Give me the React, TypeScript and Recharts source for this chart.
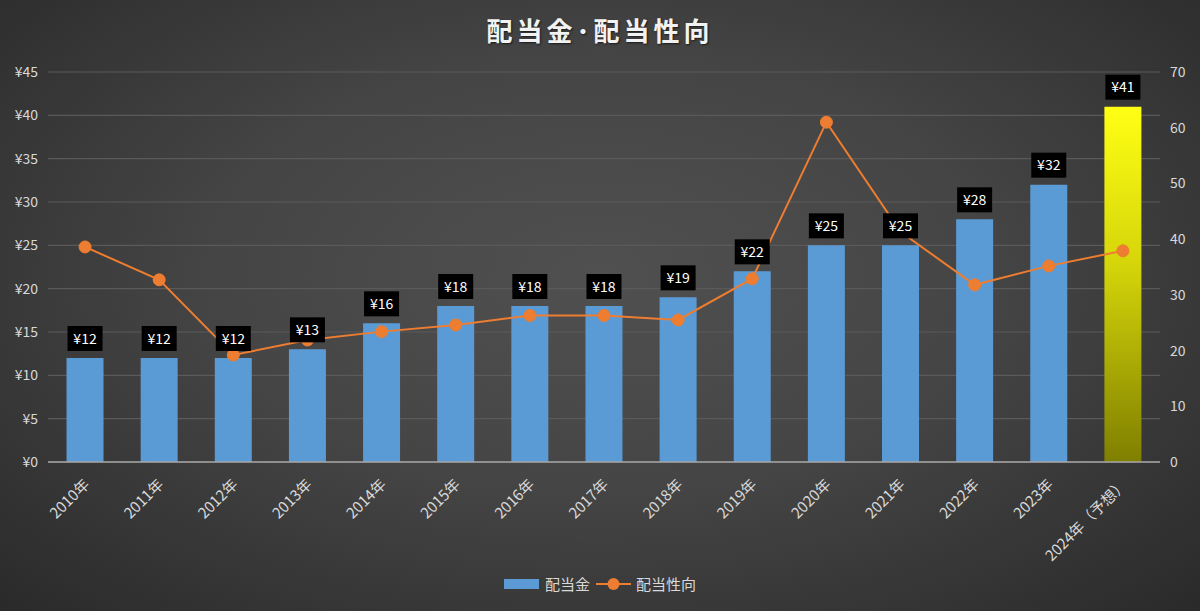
import {
  ComposedChart,
  Bar,
  Line,
  XAxis,
  YAxis,
  CartesianGrid,
  LabelList,
  Cell,
} from 'recharts';

const years = [
  '2010年', '2011年', '2012年', '2013年', '2014年', '2015年', '2016年', '2017年',
  '2018年', '2019年', '2020年', '2021年', '2022年', '2023年', '2024年（予想）',
];
const dividends = [12, 12, 12, 13, 16, 18, 18, 18, 19, 22, 25, 25, 28, 32, 41];
const payoutRatios = [
  38.6, 32.7, 19.2, 21.9, 23.4, 24.6, 26.3, 26.3, 25.5, 32.9, 61.0, 41.3, 31.8, 35.2, 37.9,
];
const leftTicks = [0, 5, 10, 15, 20, 25, 30, 35, 40, 45];
const rightTicks = [0, 10, 20, 30, 40, 50, 60, 70];

const data = years.map((year, i) => ({
  year,
  dividend: dividends[i],
  payout: payoutRatios[i],
}));

const FONT = '"Noto Sans CJK JP", "Noto Sans", sans-serif';
const TEXT = '#d9d9d9';

// black box with the yen amount, sitting above each bar
const ValueBox = (props: any) => {
  const { x, y, width, value } = props;
  const cx = x + width / 2;
  const w = 35;
  const h = 25;
  return (
    <g>
      <rect x={cx - w / 2} y={y - 7 - h} width={w} height={h} fill="#000" />
      <text
        x={cx}
        y={y - 7 - h / 2}
        dy="0.36em"
        textAnchor="middle"
        fill="#fff"
        fontSize={14}
        fontFamily={FONT}
      >
        ¥{value}
      </text>
    </g>
  );
};

const YearTick = (props: any) => {
  const { x, y, payload } = props;
  return (
    <g transform={`translate(${x - 2},${y + 8})`}>
      <text
        x={0}
        y={0}
        dy="0.7em"
        textAnchor="end"
        transform="rotate(-45)"
        fill={TEXT}
        fontSize={15}
        fontFamily={FONT}
      >
        {payload.value}
      </text>
    </g>
  );
};

export default function App() {
  return (
    <div
      style={{
        position: 'absolute',
        left: 0,
        top: 0,
        width: 1200,
        height: 611,
        background: 'radial-gradient(ellipse at 50% 45%, #505050 0%, #454545 45%, #2a2a2a 100%)',
        fontFamily: FONT,
        overflow: 'hidden',
      }}
    >
      <div
        style={{
          position: 'absolute',
          top: 11,
          left: 0,
          width: 1200,
          textAlign: 'center',
          color: '#f2f2f2',
          fontSize: 26,
          fontWeight: 700,
          letterSpacing: 4,
          textShadow: '1px 1px 2px rgba(0,0,0,0.6)',
        }}
      >
        配当金･配当性向
      </div>

      <ComposedChart
        width={1200}
        height={611}
        data={data}
        margin={{ top: 72, right: 0, bottom: 0, left: 0 }}
        barCategoryGap="25%"
      >
        <defs>
          <linearGradient id="forecast" x1="0" y1="0" x2="0" y2="1">
            <stop offset="0%" stopColor="#ffff14" />
            <stop offset="45%" stopColor="#d4d40a" />
            <stop offset="100%" stopColor="#7f7f00" />
          </linearGradient>
        </defs>
        <CartesianGrid yAxisId="left" vertical={false} stroke="#5a5a5a" strokeWidth={1.2} />
        <XAxis
          dataKey="year"
          height={149}
          interval={0}
          tickLine={false}
          axisLine={{ stroke: '#a6a6a6', strokeWidth: 1.5 }}
          tick={<YearTick />}
        />
        <YAxis
          yAxisId="left"
          orientation="left"
          width={48}
          domain={[0, 45]}
          ticks={leftTicks}
          tickFormatter={(v) => `¥${v}`}
          tickLine={false}
          axisLine={false}
          tickMargin={4}
          tick={{ fill: TEXT, fontSize: 14, fontFamily: FONT }}
        />
        <YAxis
          yAxisId="right"
          orientation="right"
          width={40}
          domain={[0, 70]}
          ticks={rightTicks}
          tickLine={false}
          axisLine={false}
          tickMargin={4}
          tick={{ fill: TEXT, fontSize: 14, fontFamily: FONT, textAnchor: 'start' }}
        />
        <Bar
          yAxisId="left"
          dataKey="dividend"
          name="配当金"
          fill="#5b9bd5"
          isAnimationActive={false}
        >
          {data.map((d, i) => (
            <Cell key={d.year} fill={i === data.length - 1 ? 'url(#forecast)' : '#5b9bd5'} />
          ))}
          <LabelList dataKey="dividend" content={<ValueBox />} />
        </Bar>
        <Line
          yAxisId="right"
          dataKey="payout"
          name="配当性向"
          stroke="#ed7d31"
          strokeWidth={2}
          dot={{ r: 6, fill: '#ed7d31', stroke: '#ed7d31', strokeWidth: 1 }}
          activeDot={false}
          isAnimationActive={false}
        />
      </ComposedChart>

      {/* legend */}
      <div
        style={{
          position: 'absolute',
          top: 573,
          left: 0,
          width: 1200,
          display: 'flex',
          justifyContent: 'center',
          alignItems: 'center',
          color: TEXT,
          fontSize: 15,
        }}
      >
        <span style={{ display: 'inline-block', width: 35, height: 10, background: '#5b9bd5', marginRight: 6 }} />
        <span style={{ marginRight: 6 }}>配当金</span>
        <svg width={35} height={14} style={{ marginRight: 5 }}>
          <line x1={0} y1={7} x2={35} y2={7} stroke="#ed7d31" strokeWidth={2} />
          <circle cx={17.5} cy={7} r={6} fill="#ed7d31" />
        </svg>
        <span>配当性向</span>
      </div>
    </div>
  );
}
